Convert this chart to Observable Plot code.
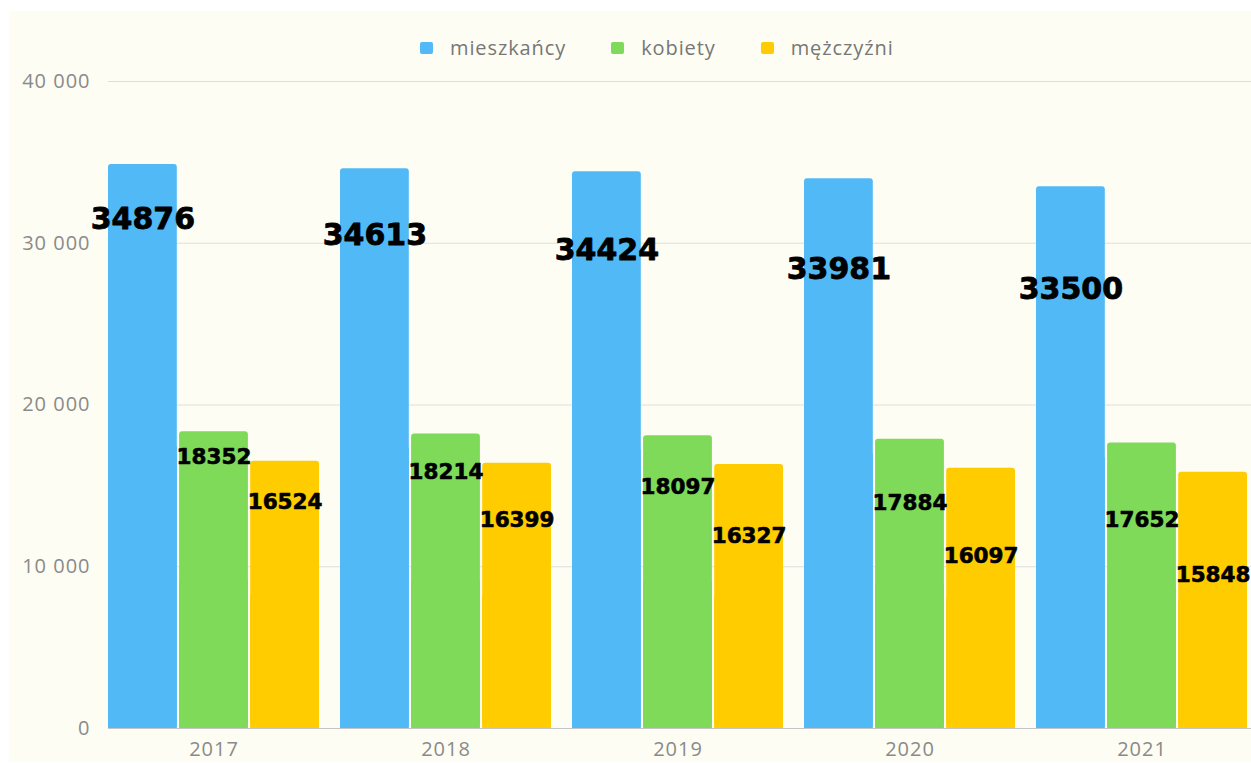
<!DOCTYPE html>
<html>
<head>
<meta charset="utf-8">
<script src="https://cdn.jsdelivr.net/npm/d3@7"></script>
<script src="https://cdn.jsdelivr.net/npm/@observablehq/plot@0.6"></script>
<style>
  html, body { margin: 0; padding: 0; background: #ffffff; overflow: hidden; }
  #wrap { position: relative; width: 1251px; height: 763px; }
  #bg { position: absolute; left: 9px; top: 11px; right: 0; bottom: 1px; background: #fdfdf4; }
  #legend { position: relative; height: 60px; box-sizing: border-box; padding-top: 35px; padding-left: 420px;
            display: flex; align-items: center; font-family: "Open Sans", sans-serif; font-size: 20px;
            letter-spacing: 0.9px; color: #777; line-height: 24px; }
  #legend .item { display: flex; align-items: center; margin-right: 45px; height: 24px; }
  #legend .sw { width: 13px; height: 12px; border-radius: 2px; margin-right: 17px; }
  #chart { position: relative; }
  #chart svg { background: transparent; display: block; }
  #chart g[aria-label$="tick label"] text { letter-spacing: 1px; }
</style>
</head>
<body>
<div id="wrap">
  <div id="bg"></div>
  <div id="legend"></div>
  <div id="chart"></div>
</div>
<script>
const years = ["2017", "2018", "2019", "2020", "2021"];
const seriesNames = ["mieszkańcy", "kobiety", "mężczyźni"];
const mieszkancy = [34876, 34613, 34424, 33981, 33500];
const kobiety = [18352, 18214, 18097, 17884, 17652];
const mezczyzni = [16524, 16399, 16327, 16097, 15848];
const yTicks = [0, 10000, 20000, 30000, 40000];

const colors = ["#51b9f6", "#7fda59", "#ffcc00"];
const seriesValues = [mieszkancy, kobiety, mezczyzni];

const rows = [];
seriesNames.forEach((s, si) => years.forEach((y, yi) => rows.push({year: y, series: s, si, yi, value: seriesValues[si][yi]})));

// legend
const legend = document.getElementById("legend");
seriesNames.forEach((s, i) => {
  const it = document.createElement("div");
  it.className = "item";
  it.innerHTML = `<span class="sw" style="background:${colors[i]}"></span><span>${s}</span>`;
  legend.appendChild(it);
});

// layout
const W = 1251, H = 703;
const xr0 = 108, xr1 = 1248;
const padInner = 0.09, gap = 2;
const step = (xr1 - xr0) / (years.length - padInner);
const bw = step * (1 - padInner);
const sub = (bw - 2 * gap) / 3;
const insetL = i => i * (sub + gap);
const insetR = i => (2 - i) * (sub + gap);

const fmt = d => d3.format(",")(d).replace(/,/g, " ");

const marks = [
  Plot.gridY(yTicks, {stroke: "#dedede", strokeOpacity: 1}),
  Plot.axisY(yTicks, {tickSize: 0, tickPadding: 18, tickFormat: fmt, fontSize: 20, fill: "#8a8a8a", fontFamily: "Open Sans"}),
  Plot.axisX({tickSize: 0, tickPadding: 13, fontSize: 20, fill: "#8a8a8a", fontFamily: "Open Sans"}),
  Plot.ruleY([0], {stroke: "#c4c4c4"})
];

seriesNames.forEach((s, si) => {
  const data = rows.filter(d => d.si === si);
  marks.push(Plot.barY(data, {x: "year", y: "value", fill: colors[si], rx: 3, insetLeft: insetL(si), insetRight: insetR(si)}));
  marks.push(Plot.barY(data, {x: "year", y: d => d.value / 2, fill: colors[si], insetLeft: insetL(si), insetRight: insetR(si)}));
});

// value labels (offset below bar top grows a little with each year, as in the source)
const labelStyle = [
  {size: 30, base: 55, step: 12, sw: 0.8},
  {size: 21.5, base: 25, step: 13, sw: 0.6},
  {size: 21.5, base: 41, step: 15.5, sw: 0.6}
];
seriesNames.forEach((s, si) => {
  years.forEach((y, yi) => {
    const data = rows.filter(d => d.si === si && d.yi === yi);
    marks.push(Plot.text(data, {
      x: "year", y: "value", text: d => String(d.value),
      dx: (si - 1) * (sub + gap),
      dy: labelStyle[si].base + labelStyle[si].step * yi,
      fontSize: labelStyle[si].size, fontWeight: "bold", fontFamily: "DejaVu Sans",
      fill: "#000", stroke: "#000", strokeWidth: labelStyle[si].sw
    }));
  });
});

const chart = Plot.plot({
  width: W, height: H,
  marginTop: 21, marginBottom: 35, marginLeft: xr0, marginRight: 0,
  x: {type: "band", domain: years, range: [xr0, xr1], paddingInner: padInner, paddingOuter: 0, label: null, axis: null},
  y: {domain: [0, 40000], label: null, axis: null},
  style: {background: "transparent", fontFamily: "Open Sans", overflow: "visible"},
  marks
});
document.getElementById("chart").appendChild(chart);
</script>
</body>
</html>
